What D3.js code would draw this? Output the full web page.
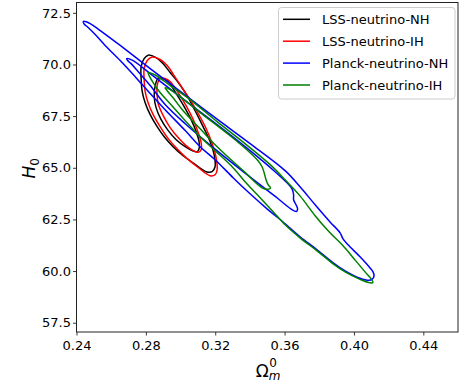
<!DOCTYPE html>
<html>
<head>
<meta charset="utf-8">
<script src="https://cdn.jsdelivr.net/npm/d3@7"></script>
<style>
  html, body { margin: 0; padding: 0; background: #ffffff; }
  svg { display: block; font-family: "DejaVu Sans", sans-serif; }
</style>
</head>
<body>
<svg id="chart" width="462" height="388"></svg>
<script>
// ---------------- data ----------------
const seriesNames = ["LSS-neutrino-NH", "LSS-neutrino-IH", "Planck-neutrino-NH", "Planck-neutrino-IH"];
const seriesColors = ["#000000", "#ff0000", "#0000ff", "#008000"];

const omTicks = [0.24, 0.28, 0.32, 0.36, 0.40, 0.44];
const h0Ticks = [57.5, 60.0, 62.5, 65.0, 67.5, 70.0, 72.5];
const omDomain = [0.24, 0.46];
const h0Domain = [57.05, 73.0];

// contour vertices: [Omega_m^0, H_0]
const lssNH_2sigma = [
  [0.2813,70.45],[0.2859,70.33],[0.2900,70.04],[0.2940,69.61],[0.2992,69.07],[0.3038,68.49],
  [0.3084,67.76],[0.3130,66.99],[0.3171,66.26],[0.3194,65.63],[0.3199,65.05],[0.3182,64.81],
  [0.3148,64.81],[0.3078,65.20],[0.3015,65.58],[0.2957,66.02],[0.2906,66.50],[0.2865,66.99],
  [0.2825,67.57],[0.2796,68.15],[0.2779,68.69],[0.2773,69.27],[0.2773,69.90],[0.2790,70.28]
];
const lssNH_1sigma = [
  [0.2871,69.34],[0.2900,69.32],[0.2929,69.17],[0.2975,68.59],[0.3021,67.96],[0.3061,67.33],
  [0.3090,66.75],[0.3107,66.26],[0.3107,65.92],[0.3096,65.78],[0.3067,65.83],[0.3027,66.02],
  [0.2975,66.36],[0.2929,66.80],[0.2888,67.33],[0.2859,67.91],[0.2848,68.49],[0.2854,68.98]
];
const lssIH_2sigma = [
  [0.2836,70.36],[0.2882,70.24],[0.2923,69.95],[0.2963,69.46],[0.3009,68.88],[0.3055,68.30],
  [0.3102,67.62],[0.3148,66.89],[0.3182,66.17],[0.3205,65.49],[0.3211,64.90],[0.3199,64.66],
  [0.3171,64.61],[0.3096,65.05],[0.3032,65.49],[0.2980,65.92],[0.2929,66.41],[0.2882,66.99],
  [0.2842,67.57],[0.2813,68.15],[0.2796,68.69],[0.2790,69.27],[0.2790,69.80],[0.2808,70.19]
];
const lssIH_1sigma = [
  [0.2882,69.32],[0.2911,69.32],[0.2940,69.17],[0.2986,68.64],[0.3032,68.01],[0.3073,67.33],
  [0.3102,66.70],[0.3119,66.21],[0.3119,65.87],[0.3102,65.75],[0.3073,65.83],[0.3032,66.07],
  [0.2986,66.46],[0.2940,66.94],[0.2900,67.52],[0.2871,68.10],[0.2865,68.54],[0.2865,68.98]
];
const planckNH_2sigma = [
  [0.2439,72.08],[0.2479,71.98],[0.2537,71.64],[0.2652,70.92],[0.2825,69.80],[0.3027,68.52],
  [0.3211,67.35],[0.3401,66.17],[0.3603,64.86],[0.3689,64.08],[0.3776,63.21],[0.3862,62.38],
  [0.3920,61.85],[0.3937,61.56],[0.3966,61.27],[0.4035,60.69],[0.4093,60.15],[0.4110,59.96],
  [0.4116,59.77],[0.4104,59.60],[0.4087,59.55],[0.4035,59.65],[0.3949,60.01],[0.3880,60.40],
  [0.3787,61.03],[0.3689,61.66],[0.3603,62.29],[0.3499,63.01],[0.3401,63.74],[0.3303,64.52],
  [0.3199,65.39],[0.3113,66.02],[0.3027,66.80],[0.2911,67.81],[0.2825,68.59],[0.2738,69.41],
  [0.2652,70.19],[0.2565,70.92],[0.2508,71.45],[0.2467,71.79],[0.2444,71.96]
];
const planckNH_1sigma = [
  [0.2689,70.28],[0.2721,70.21],[0.2825,69.56],[0.3027,68.25],[0.3211,67.09],[0.3401,65.83],
  [0.3545,64.81],[0.3614,64.27],[0.3643,63.98],[0.3652,63.69],[0.3652,63.45],[0.3666,63.21],
  [0.3675,63.01],[0.3669,62.89],[0.3643,62.97],[0.3563,63.50],[0.3413,64.47],[0.3217,65.78],
  [0.3027,67.13],[0.2911,68.06],[0.2825,68.98],[0.2756,69.65],[0.2715,70.04],[0.2695,70.19]
];
const planckIH_2sigma = [
  [0.2813,69.61],[0.2854,69.49],[0.2940,68.98],[0.3055,68.30],[0.3211,67.23],[0.3372,66.17],
  [0.3517,65.15],[0.3603,64.42],[0.3689,63.64],[0.3776,62.68],[0.3862,61.85],[0.3932,61.27],
  [0.4006,60.54],[0.4064,59.96],[0.4099,59.62],[0.4110,59.45],[0.4093,59.43],[0.4035,59.60],
  [0.3949,59.96],[0.3880,60.35],[0.3787,60.98],[0.3689,61.61],[0.3603,62.24],[0.3534,62.87],
  [0.3459,63.55],[0.3372,64.32],[0.3303,65.00],[0.3199,65.83],[0.3113,66.50],[0.3027,67.28],
  [0.2940,68.10],[0.2882,68.64],[0.2842,69.12],[0.2819,69.46]
];
const planckIH_1sigma = [
  [0.2911,68.88],[0.2940,68.78],[0.3027,68.25],[0.3113,67.67],[0.3286,66.55],[0.3401,65.73],
  [0.3447,65.34],[0.3470,65.05],[0.3482,64.76],[0.3493,64.42],[0.3505,64.18],[0.3519,64.03],
  [0.3505,63.96],[0.3470,64.03],[0.3361,64.86],[0.3211,66.02],[0.3113,66.89],[0.3015,67.76],
  [0.2957,68.39],[0.2923,68.73]
];

const contours = [
  { s: 0, pts: lssNH_2sigma }, { s: 0, pts: lssNH_1sigma },
  { s: 1, pts: lssIH_2sigma }, { s: 1, pts: lssIH_1sigma },
  { s: 2, pts: planckNH_2sigma }, { s: 2, pts: planckNH_1sigma },
  { s: 3, pts: planckIH_2sigma }, { s: 3, pts: planckIH_1sigma }
];

// ---------------- layout ----------------
const svg = d3.select("#chart");
const L = 76.5, T = 2.5, R = 458, B = 332;

const x = d3.scaleLinear().domain(omDomain).range([L, R]);
const y = d3.scaleLinear().domain(h0Domain).range([B, T]);

svg.append("defs").append("clipPath").attr("id", "clip")
  .append("rect").attr("x", L).attr("y", T).attr("width", R - L).attr("height", B - T);

const line = d3.line()
  .x(d => x(d[0])).y(d => y(d[1]))
  .curve(d3.curveCatmullRomClosed.alpha(0.5));

const plot = svg.append("g").attr("clip-path", "url(#clip)");
plot.selectAll("path.contour").data(contours).enter().append("path")
  .attr("class", "contour")
  .attr("d", d => line(d.pts))
  .attr("fill", "none")
  .attr("stroke", d => seriesColors[d.s])
  .attr("stroke-width", 1.5)
  .attr("stroke-linejoin", "round");

// axes
const xAxis = d3.axisBottom(x).tickValues(omTicks).tickFormat(d3.format(".2f"))
  .tickSize(3.5).tickPadding(5.5).tickSizeOuter(0);
const yAxis = d3.axisLeft(y).tickValues(h0Ticks).tickFormat(d3.format(".1f"))
  .tickSize(3.5).tickPadding(2).tickSizeOuter(0);

const gx = svg.append("g").attr("transform", `translate(0,${B})`).call(xAxis);
const gy = svg.append("g").attr("transform", `translate(${L},0)`).call(yAxis);
[gx, gy].forEach(g => {
  g.select(".domain").remove();
  g.selectAll(".tick line").attr("stroke", "#222").attr("stroke-width", 0.9);
  g.selectAll(".tick text").attr("fill", "#000").style("font-size", "13px")
    .style("font-family", "'DejaVu Sans', sans-serif");
});

// frame
svg.append("rect").attr("x", L).attr("y", T).attr("width", R - L).attr("height", B - T)
  .attr("fill", "none").attr("stroke", "#222").attr("stroke-width", 1);

// axis labels
const cx = (L + R) / 2;
const xl = svg.append("g");
xl.append("text").attr("x", cx - 11.5).attr("y", 376.5).style("font-size", "17px").attr("fill", "#000").text("Ω");
xl.append("text").attr("x", cx + 2).attr("y", 367).style("font-size", "12px").attr("fill", "#000").text("0");
xl.append("text").attr("x", cx + 1.5).attr("y", 379.5).style("font-size", "12px").style("font-style", "italic").attr("fill", "#000").text("m");

const yl = svg.append("text")
  .attr("transform", `translate(35,${(T + B) / 2 + 1}) rotate(-90)`)
  .attr("text-anchor", "middle").attr("fill", "#000");
yl.append("tspan").style("font-size", "17px").style("font-style", "italic").text("H");
yl.append("tspan").style("font-size", "12px").attr("dy", 3.5).text("0");

// legend
const lg = svg.append("g");
lg.append("rect").attr("x", 278.5).attr("y", 7.5).attr("width", 176.5).attr("height", 91.5)
  .attr("rx", 3).attr("fill", "#fff").attr("fill-opacity", 0.8)
  .attr("stroke", "#cccccc").attr("stroke-width", 1);
const rows = lg.selectAll("g.row").data(seriesNames).enter().append("g")
  .attr("transform", (d, i) => `translate(0,${19.3 + i * 21.9})`);
rows.append("line").attr("x1", 283).attr("x2", 310).attr("y1", 0).attr("y2", 0)
  .attr("stroke", (d, i) => seriesColors[i]).attr("stroke-width", 1.5);
rows.append("text").attr("x", 322).attr("y", 0).attr("dy", "0.36em")
  .style("font-size", "13px").attr("fill", "#000").text(d => d);
</script>
</body>
</html>
